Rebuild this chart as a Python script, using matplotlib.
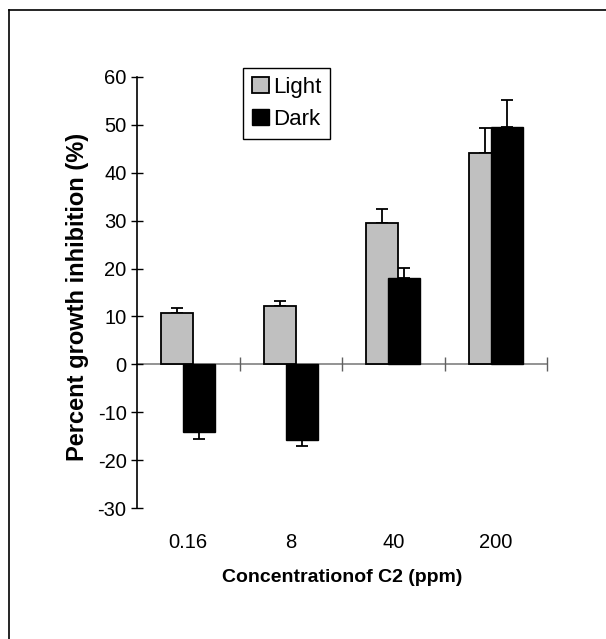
import numpy as np
import matplotlib
matplotlib.use("Agg")
import matplotlib.pyplot as plt
from matplotlib.lines import Line2D

# data
concs = ["0.16", "8", "40", "200"]
light = [10.8, 12.2, 29.5, 44.2]
light_err = [1.0, 1.0, 2.9, 5.2]
dark = [-14.1, -15.9, 18.1, 49.5]
dark_err = [1.4, 1.2, 2.1, 5.8]

plt.rcParams["font.family"] = ["Liberation Sans", "DejaVu Sans"]
plt.rcParams["axes.unicode_minus"] = False

W, H = 606, 639
fig = plt.figure(figsize=(W / 100, H / 100), dpi=100)
ax = fig.add_axes([137 / W, 1 - 508 / H, 410 / W, 431 / H])

x = np.arange(len(concs))
bw, off = 0.31, 0.107


def one_sided(vals, errs):
    lo = [e if v < 0 else 0 for v, e in zip(vals, errs)]
    hi = [e if v >= 0 else 0 for v, e in zip(vals, errs)]
    return [lo, hi]


ax.bar(x - off, light, bw, color="#c0c0c0", edgecolor="black", lw=1.3,
       label="Light", zorder=2)
ax.errorbar(x - off, light, yerr=one_sided(light, light_err), fmt="none",
            ecolor="black", elinewidth=1.3, capsize=4, capthick=1.3, zorder=1.9)
ax.bar(x + off, dark, bw, color="black", edgecolor="black", lw=1.0,
       label="Dark", zorder=3)
ax.errorbar(x + off, dark, yerr=one_sided(dark, dark_err), fmt="none",
            ecolor="black", elinewidth=1.3, capsize=4, capthick=1.3, zorder=2.9)

ax.set_xlim(-0.5, len(concs) - 0.5)
ax.set_ylim(-30, 60)
ax.set_yticks(np.arange(-30, 61, 10))
ax.tick_params(axis="y", direction="inout", length=9, width=1, labelsize=14.5, pad=3)

ax.spines["top"].set_visible(False)
ax.spines["right"].set_visible(False)
ax.spines["left"].set_linewidth(1.2)
ax.spines["bottom"].set_position(("data", 0))
ax.spines["bottom"].set_color("#808080")
ax.spines["bottom"].set_linewidth(1.2)
ax.spines["bottom"].set_zorder(0.5)
ax.set_xticks(x + 0.5)
ax.set_xticklabels([])
ax.tick_params(axis="x", direction="inout", length=10, width=1, color="#606060")

for xi, lab in zip(x, concs):
    ax.annotate(lab, xy=(xi, -30), xytext=(0, -25), textcoords="offset points",
                ha="center", va="center", fontsize=14.5)

fig.text(342 / W, 1 - 578 / H, "Concentrationof C2 (ppm)", ha="center", va="center",
         fontsize=14, fontweight="bold")
fig.text(78 / W, 1 - 297 / H, "Percent growth inhibition (%)", ha="center", va="center",
         rotation=90, fontsize=17, fontweight="bold")

leg = ax.legend(loc="upper left", bbox_to_anchor=(0.2585, 1.021), borderaxespad=0,
                fontsize=16, handlelength=0.75, handleheight=0.75, handletextpad=0.2,
                labelspacing=0.5, borderpad=0.4, fancybox=False, framealpha=1)
leg.get_frame().set_edgecolor("black")
leg.get_frame().set_linewidth(1.0)

# outer frame (only top and left edges fall inside the image)
fig.add_artist(Line2D([8.5 / W, 8.5 / W], [0, 1 - 10 / H], color="black", lw=1.2))
fig.add_artist(Line2D([8.5 / W, 1], [1 - 10 / H, 1 - 10 / H], color="black", lw=1.2))

fig.savefig("out.png", dpi=100)
